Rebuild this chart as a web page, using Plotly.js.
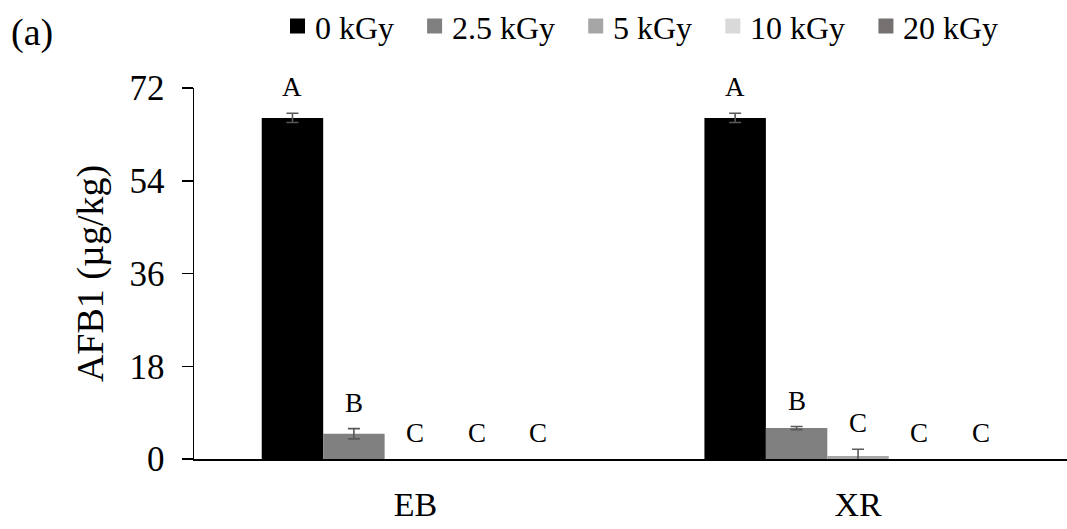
<!DOCTYPE html>
<html>
<head>
<meta charset="utf-8">
<script src="https://cdn.plot.ly/plotly-3.0.1.min.js"></script>
<style>html,body{margin:0;padding:0;background:#fff;}#chart{width:1067px;height:529px;}</style>
</head>
<body>
<div id="chart"></div>
<script>
// ---- data ----
const categories = ["EB", "XR"];
const doses = ["0 kGy", "2.5 kGy", "5 kGy", "10 kGy", "20 kGy"];
const values_0 = [66.2, 66.2];
const values_2_5 = [4.9, 6.0];
const values_5 = [0, 0.6];
const values_10 = [0, 0];
const values_20 = [0, 0];
const errors_0 = [0.9, 0.9];
const errors_2_5 = [1.0, 0.3];
const errors_5 = [NaN, 1.3];
const errors_10 = [NaN, NaN];
const errors_20 = [NaN, NaN];
const letters_0 = ["A", "A"];
const letters_2_5 = ["B", "B"];
const letters_5 = ["C", "C"];
const letters_10 = ["C", "C"];
const letters_20 = ["C", "C"];
const yTicks = [0, 18, 36, 54, 72];

// ---- styling ----
const FONT = 'Liberation Serif, Times New Roman, serif';
const colors = ["#000000", "#808080", "#a6a6a6", "#d9d9d9", "#767171"];
const seriesValues = [values_0, values_2_5, values_5, values_10, values_20];
const seriesErrors = [errors_0, errors_2_5, errors_5, errors_10, errors_20];
const seriesLetters = [letters_0, letters_2_5, letters_5, letters_10, letters_20];
const BARGAP = 0.306;
const nS = doses.length;
const barW = (1 - BARGAP) / nS;
const LETTER_SHIFT = 26; // px above bar/error

// plot-area geometry (px) used to convert legend placement to paper coords
const W = 1067, H = 529, ML = 194, MR = 0, MT = 88, MB = 70;
const PW = W - ML - MR, PH = H - MT - MB;
const px2x = px => (px - ML) / PW;
const py2y = py => (H - MB - py) / PH;

const traces = doses.map((d, i) => ({
  type: "bar",
  name: d,
  x: categories.map((c, k) => k),
  y: seriesValues[i],
  marker: {color: colors[i], line: {width: 0}},
  error_y: {
    type: "data",
    array: seriesErrors[i],
    visible: true,
    color: "#595959",
    thickness: 1.6,
    width: 6
  },
  showlegend: false,
  hoverinfo: "skip"
}));

const annotations = [];
const shapes = [];
seriesLetters.forEach((arr, i) => {
  arr.forEach((txt, k) => {
    const e = seriesErrors[i][k];
    annotations.push({
      x: k + (i - (nS - 1) / 2) * barW,
      y: seriesValues[i][k] + (isNaN(e) ? 0 : e),
      xref: "x", yref: "y",
      yshift: LETTER_SHIFT,
      text: txt,
      showarrow: false,
      font: {family: FONT, size: 27, color: "#000"},
      yanchor: "middle"
    });
  });
});
annotations.push({
  xref: "paper", yref: "paper",
  x: px2x(9), y: py2y(32),
  xanchor: "left", yanchor: "middle",
  text: "(a)", showarrow: false,
  font: {family: FONT, size: 38, color: "#000"}
});

// custom legend: square + label, laid out by measured text width
const LEG_FONT = 32;
const ctx = document.createElement("canvas").getContext("2d");
ctx.font = LEG_FONT + "px 'Liberation Serif'";
let lx = 290;
const BOX = 15, BOX_GAP = 9, ITEM_GAP = 34, LEG_CY = 26;
doses.forEach((d, i) => {
  shapes.push({
    type: "rect", xref: "paper", yref: "paper",
    x0: px2x(lx), x1: px2x(lx + BOX),
    y0: py2y(LEG_CY + BOX / 2), y1: py2y(LEG_CY - BOX / 2),
    fillcolor: colors[i], line: {width: 0}
  });
  annotations.push({
    xref: "paper", yref: "paper",
    x: px2x(lx + BOX + BOX_GAP), y: py2y(LEG_CY + 2),
    xanchor: "left", yanchor: "middle",
    text: d, showarrow: false, borderpad: 0,
    font: {family: FONT, size: LEG_FONT, color: "#000"}
  });
  lx += BOX + BOX_GAP + ctx.measureText(d).width + ITEM_GAP;
});

const layout = {
  width: W, height: H,
  margin: {l: ML, r: MR, t: MT, b: MB},
  paper_bgcolor: "#fff", plot_bgcolor: "#fff",
  font: {family: FONT, color: "#000"},
  barmode: "group",
  bargap: BARGAP,
  bargroupgap: 0,
  showlegend: false,
  xaxis: {
    type: "linear",
    range: [-0.5, 1.472],
    tickmode: "array",
    tickvals: categories.map((c, k) => k),
    ticktext: categories,
    showgrid: false, zeroline: false,
    showline: true, linecolor: "#000", linewidth: 2,
    ticks: "",
    tickfont: {family: FONT, size: 34, color: "#000"},
    ticklabelstandoff: 14
  },
  yaxis: {
    range: [0, 72],
    tickmode: "array",
    tickvals: yTicks,
    ticktext: yTicks.map(String),
    showgrid: false, zeroline: false,
    showline: true, linecolor: "#000", linewidth: 1.5,
    ticks: "outside", ticklen: 11, tickwidth: 1.5, tickcolor: "#000",
    tickfont: {family: FONT, size: 35, color: "#000"},
    ticklabelstandoff: 10,
    title: {text: "AFB1 (µg/kg)", font: {family: FONT, size: 38, color: "#000"}, standoff: 14}
  },
  shapes: shapes,
  annotations: annotations
};

Plotly.newPlot("chart", traces, layout, {staticPlot: true, displayModeBar: false});
</script>
</body>
</html>
